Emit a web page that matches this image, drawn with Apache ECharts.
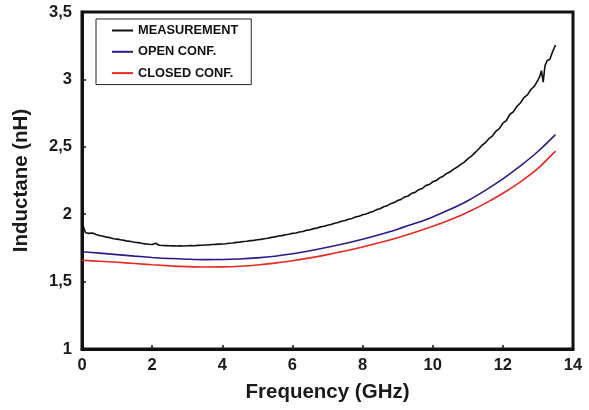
<!DOCTYPE html>
<html>
<head>
<meta charset="utf-8">
<script src="https://cdn.jsdelivr.net/npm/echarts@6/dist/echarts.min.js"></script>
<style>
  html, body { margin: 0; padding: 0; background: #fff; }
  #chart { width: 589px; height: 410px; }
</style>
</head>
<body>
<div id="chart"></div>
<script>
// Measured inductance (nH) versus frequency (GHz)
const measFreq = [
  0.0, 0.05, 0.1, 0.2, 0.3, 0.4, 0.5, 0.6, 0.7, 0.8, 0.9,
  1.0, 1.1, 1.2, 1.3, 1.4, 1.5, 1.6, 1.7, 1.8, 1.9,
  2.0, 2.1, 2.2, 2.3, 2.4, 2.5, 2.6, 2.7, 2.8, 2.9,
  3.0, 3.1, 3.2, 3.3, 3.4, 3.5, 3.6, 3.7, 3.8, 3.9,
  4.0, 4.1, 4.2, 4.3, 4.4, 4.5, 4.6, 4.7, 4.8, 4.9,
  5.0, 5.1, 5.2, 5.3, 5.4, 5.5, 5.6, 5.7, 5.8, 5.9,
  6.0, 6.1, 6.2, 6.3, 6.4, 6.5, 6.6, 6.7, 6.8, 6.9,
  7.0, 7.1, 7.2, 7.3, 7.4, 7.5, 7.6, 7.7, 7.8, 7.9,
  8.0, 8.1, 8.2, 8.3, 8.4, 8.5, 8.6, 8.7, 8.8, 8.9,
  9.0, 9.1, 9.2, 9.3, 9.4, 9.5, 9.6, 9.7, 9.8, 9.9,
  10.0, 10.1, 10.2, 10.3, 10.4, 10.5, 10.6, 10.7, 10.8, 10.9,
  11.0, 11.1, 11.2, 11.3, 11.4, 11.5, 11.6, 11.7, 11.8, 11.9,
  12.0, 12.1, 12.2, 12.3, 12.4, 12.5, 12.6, 12.7, 12.8, 12.9,
  13.0, 13.05, 13.1, 13.15, 13.2, 13.26, 13.34, 13.42, 13.5
];
const measValues = [
  1.95, 1.90, 1.862, 1.858, 1.860, 1.850, 1.842, 1.836, 1.830, 1.826, 1.818,
  1.815, 1.810, 1.806, 1.800, 1.797, 1.792, 1.789, 1.784, 1.780, 1.777,
  1.775, 1.785, 1.770, 1.768, 1.767, 1.766, 1.765, 1.764, 1.765, 1.764,
  1.766, 1.767, 1.766, 1.769, 1.770, 1.772, 1.772, 1.775, 1.776, 1.778,
  1.779, 1.781, 1.784, 1.786, 1.791, 1.793, 1.797, 1.799, 1.804, 1.806,
  1.811, 1.813, 1.818, 1.821, 1.828, 1.832, 1.838, 1.841, 1.848, 1.851,
  1.858, 1.861, 1.868, 1.872, 1.881, 1.884, 1.893, 1.897, 1.906, 1.910,
  1.918, 1.923, 1.933, 1.938, 1.948, 1.953, 1.963, 1.968, 1.980, 1.985,
  1.996, 2.001, 2.013, 2.020, 2.034, 2.040, 2.055, 2.062, 2.078, 2.086,
  2.102, 2.110, 2.128, 2.135, 2.155, 2.162, 2.182, 2.190, 2.212, 2.220,
  2.240, 2.250, 2.270, 2.282, 2.302, 2.315, 2.334, 2.350, 2.370, 2.386,
  2.410, 2.430, 2.455, 2.480, 2.510, 2.530, 2.560, 2.580, 2.615, 2.635,
  2.675, 2.695, 2.740, 2.760, 2.800, 2.825, 2.865, 2.885, 2.925, 2.950,
  2.995, 3.020, 3.065, 2.980, 3.100, 3.138, 3.149, 3.206, 3.255
];

// Simulated curves
const simFreq = [
  0, 0.5, 1, 1.5, 2, 2.5, 3, 3.5, 4, 4.5, 5, 5.5, 6, 6.5, 7,
  7.5, 8, 8.5, 9, 9.5, 10, 10.5, 11, 11.5, 12, 12.5, 13, 13.5
];
const openValues = [
  1.722, 1.711, 1.700, 1.689, 1.679, 1.671, 1.666, 1.663, 1.664, 1.668, 1.676, 1.688, 1.706, 1.729, 1.755,
  1.783, 1.814, 1.849, 1.889, 1.932, 1.980, 2.036, 2.100, 2.177, 2.262, 2.358, 2.465, 2.590
];
const closedValues = [
  1.658, 1.651, 1.643, 1.634, 1.625, 1.617, 1.611, 1.608, 1.609, 1.614, 1.623, 1.637, 1.655, 1.676, 1.700,
  1.727, 1.757, 1.790, 1.826, 1.866, 1.910, 1.959, 2.015, 2.080, 2.155, 2.240, 2.340, 2.468
];

const seriesNames = ['MEASUREMENT', 'OPEN CONF.', 'CLOSED CONF.'];
const seriesColors = ['#111111', '#2b1a8a', '#e8291f'];

const pairs = (xs, ys) => xs.map((x, i) => [x, ys[i]]);

const FONT = '"Liberation Sans", Arial, Helvetica, sans-serif';
const chart = echarts.init(document.getElementById('chart'), null, { renderer: 'canvas' });

const axisCommon = {
  axisLine: { show: true, lineStyle: { color: '#111', width: 3 } },
  axisTick: { show: true, inside: true, length: 4, lineStyle: { color: '#111', width: 1.5 } },
  splitLine: { show: false },
  axisLabel: { color: '#1a1a1a', fontFamily: FONT, fontWeight: 'bold', fontSize: 16.5 },
  nameTextStyle: { color: '#1a1a1a', fontFamily: FONT, fontWeight: 'bold', fontSize: 20.5 }
};

chart.setOption({
  animation: false,
  backgroundColor: '#ffffff',
  grid: {
    left: 82, right: 16, top: 12, bottom: 61,
    show: true, borderColor: '#111', borderWidth: 3
  },
  legend: {
    data: seriesNames,
    orient: 'vertical',
    left: 96, top: 19,
    padding: [4, 13, 4, 16],
    itemGap: 6.3,
    itemWidth: 21, itemHeight: 2,
    icon: 'rect',
    borderColor: '#222', borderWidth: 1,
    backgroundColor: '#fff',
    textStyle: { color: '#111', fontFamily: FONT, fontWeight: 'bold', fontSize: 12.8, lineHeight: 15 }
  },
  xAxis: Object.assign({}, axisCommon, {
    type: 'value', min: 0, max: 14, interval: 2,
    name: 'Frequency (GHz)', nameLocation: 'middle', nameGap: 33,
    axisLabel: Object.assign({}, axisCommon.axisLabel, { margin: 8 })
  }),
  yAxis: Object.assign({}, axisCommon, {
    type: 'value', min: 1, max: 3.5, interval: 0.5,
    name: 'Inductane (nH)', nameLocation: 'middle', nameGap: 50, nameRotate: 90,
    axisLabel: Object.assign({}, axisCommon.axisLabel, {
      margin: 10,
      formatter: v => String(v).replace('.', ',')
    })
  }),
  series: [
    { name: seriesNames[0], type: 'line', data: pairs(measFreq, measValues), showSymbol: false,
      color: seriesColors[0], lineStyle: { width: 1.6, color: seriesColors[0] } },
    { name: seriesNames[1], type: 'line', data: pairs(simFreq, openValues), showSymbol: false, smooth: 0.3,
      color: seriesColors[1], lineStyle: { width: 1.6, color: seriesColors[1] } },
    { name: seriesNames[2], type: 'line', data: pairs(simFreq, closedValues), showSymbol: false, smooth: 0.3,
      color: seriesColors[2], lineStyle: { width: 1.6, color: seriesColors[2] } }
  ]
});
</script>
</body>
</html>
